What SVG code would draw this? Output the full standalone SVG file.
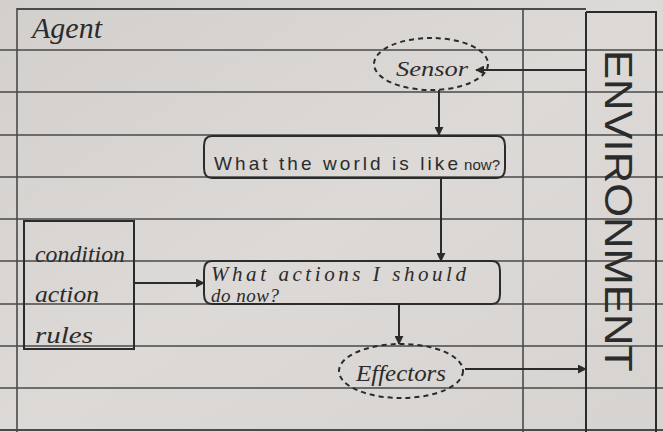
<svg xmlns="http://www.w3.org/2000/svg" width="663" height="432" viewBox="0 0 663 432">
<defs>
<linearGradient id="paper" x1="0" y1="0" x2="1" y2="1">
<stop offset="0" stop-color="#d2cfcc"/>
<stop offset="0.5" stop-color="#dcd9d6"/>
<stop offset="1" stop-color="#d6d3d0"/>
</linearGradient>
<marker id="arr" viewBox="0 0 10 10" refX="9" refY="5" markerWidth="9" markerHeight="9" markerUnits="userSpaceOnUse" orient="auto">
<path d="M0,0 L10,5 L0,10 Z" fill="#2b2b2b"/>
</marker>
<style>
.rule{stroke:#4a4a4a;stroke-width:1.6;fill:none}
.ink{stroke:#2b2b2b;stroke-width:2;fill:none}
.dash{stroke:#2b2b2b;stroke-width:2;fill:none;stroke-dasharray:5 4}
.conn{stroke:#2b2b2b;stroke-width:2;fill:none;marker-end:url(#arr)}
.hand{font-family:"Liberation Serif",serif;font-style:italic;fill:#2b2b2b}
.print{font-family:"Liberation Sans",Arial,sans-serif;fill:#2b2b2b}
</style>
</defs>
<rect width="663" height="432" fill="url(#paper)"/>
<g class="rule">
<path d="M0,50H663M0,92H663M0,135H663M0,177H663M0,219H663M0,261H663M0,304H663M0,346H663M0,388H663"/>
<path d="M17,9H586M0,430H663" stroke-width="2.2"/>
<path d="M17,8V432M523,8V432"/>
</g>
<g id="agent">
<text class="hand" x="32" y="38" font-size="30" textLength="70" lengthAdjust="spacingAndGlyphs">Agent</text>
</g>
<g id="environment">
<path class="ink" d="M586,12V432M586,12H656V432"/>
<text class="print" transform="translate(605,50) rotate(90)" font-size="39" textLength="322" lengthAdjust="spacingAndGlyphs">ENVIRONMENT</text>
</g>
<g id="sensor">
<ellipse class="dash" cx="431" cy="64" rx="57" ry="26"/>
<text class="hand" x="396" y="76" font-size="21" textLength="72" lengthAdjust="spacingAndGlyphs">Sensor</text>
</g>
<g id="world-state">
<path class="ink" d="M212,136Q204,136 204,146V168Q204,178 212,178H497Q505,178 505,168V146Q505,136 497,136Z"/>
<text class="print" x="214" y="170" font-size="19" textLength="244" lengthAdjust="spacing">What the world is like</text>
<text class="print" x="464" y="170" font-size="14" textLength="36" lengthAdjust="spacingAndGlyphs">now?</text>
</g>
<g id="action-decision">
<path class="ink" d="M212,261Q204,261 204,271V294Q204,304 212,304H492Q500,304 500,294V271Q500,261 492,261Z"/>
<text class="hand" x="211" y="281" font-size="21" textLength="255" lengthAdjust="spacing">What actions I should</text>
<text class="hand" x="211" y="302" font-size="19" textLength="68" lengthAdjust="spacing">do now?</text>
</g>
<g id="rules">
<rect class="ink" x="24" y="221" width="110" height="128"/>
<text class="hand" x="35" y="262" font-size="23" textLength="90" lengthAdjust="spacingAndGlyphs">condition</text>
<text class="hand" x="35" y="302" font-size="23" textLength="64" lengthAdjust="spacingAndGlyphs">action</text>
<text class="hand" x="35" y="343" font-size="23" textLength="58" lengthAdjust="spacingAndGlyphs">rules</text>
</g>
<g id="effectors">
<ellipse class="dash" cx="401" cy="371" rx="62" ry="27"/>
<text class="hand" x="356" y="381" font-size="23" textLength="90" lengthAdjust="spacingAndGlyphs">Effectors</text>
</g>
<g id="connectors">
<path class="conn" d="M586,70H476"/>
<path class="conn" d="M439,90V135"/>
<path class="conn" d="M441,178V261"/>
<path class="conn" d="M134,283H204"/>
<path class="conn" d="M399,304V344"/>
<path class="conn" d="M465,369H586"/>
</g>
</svg>
